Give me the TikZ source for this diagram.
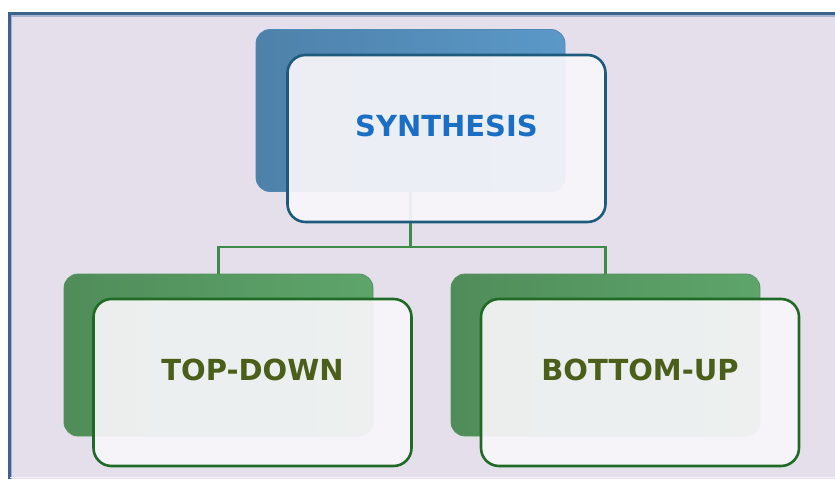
\documentclass[tikz,border=0pt]{standalone}
\usepackage{fontspec}
\newfontfamily\boxfont{DejaVu Sans}
\usetikzlibrary{calc}
\usetikzlibrary{positioning}
\definecolor{paper}{HTML}{E4DFEB}
\definecolor{frameblue}{HTML}{3D6190}
\definecolor{synback}{HTML}{5B98C8}
\definecolor{synline}{HTML}{1E5A7C}
\definecolor{syntext}{HTML}{1A6FC4}
\definecolor{leafback}{HTML}{5EA56A}
\definecolor{leafline}{HTML}{1F6B26}
\definecolor{leaftext}{HTML}{4B5F1B}
\definecolor{linkgreen}{HTML}{3E8C47}
\definecolor{glass}{HTML}{F8F6FA}

\tikzset{
  backbox/.style = {rounded corners=14pt, minimum width=309pt, minimum height=162pt,
                    draw=#1!90!black, line width=0.8pt,
                    left color=#1!85!black, right color=#1},
  frontbox/.style = {rounded corners=18pt, minimum width=318pt, minimum height=167pt,
                     draw=#1, line width=2.6pt, fill=glass, fill opacity=0.93,
                     text opacity=1, inner sep=0pt, text height=21pt, text depth=26pt,
                     font=\boxfont\bfseries\fontsize{29}{34}\selectfont},
  link/.style = {draw=linkgreen, line width=2.2pt}
}

\begin{document}
\begin{tikzpicture}[x=1pt, y=-1pt]
  \useasboundingbox (0,0) rectangle (835,479);
  \fill[white] (0,0) rectangle (835,479);
  \fill[paper] (8,12) rectangle (835,479);
  \draw[frameblue, line width=3pt] (9.5,479) -- (9.5,13.5) -- (835,13.5);
  \draw[frameblue!35!paper, line width=1.2pt] (11.8,479) -- (11.8,16) -- (835,16);
  \draw[white!60!paper, line width=1pt] (10,477.5) -- (835,477.5);

  % shadow cards
  \node[backbox=synback]  (synb)  at (410.5,110.5) {};
  \node[backbox=leafback] (topb)  at (218.5,355)   {};
  \node[backbox=leafback] (botb)  at (605.5,355)   {};

  % tree lines
  \draw[link] (synb.south) -- ++(0,55) -| (topb.north);
  \draw[link] (synb.south) ++(0,55) -| (botb.north);

  % front cards
  \node[frontbox=synline,  text=syntext]  (syn) at ($(synb)+(36,28)$)   {SYNTHESIS};
  \node[frontbox=leafline, text=leaftext] (top) at ($(topb)+(34,27.5)$) {TOP-DOWN};
  \node[frontbox=leafline, text=leaftext] (bot) at ($(botb)+(34.5,27.5)$) {BOTTOM-UP};
\end{tikzpicture}
\end{document}
